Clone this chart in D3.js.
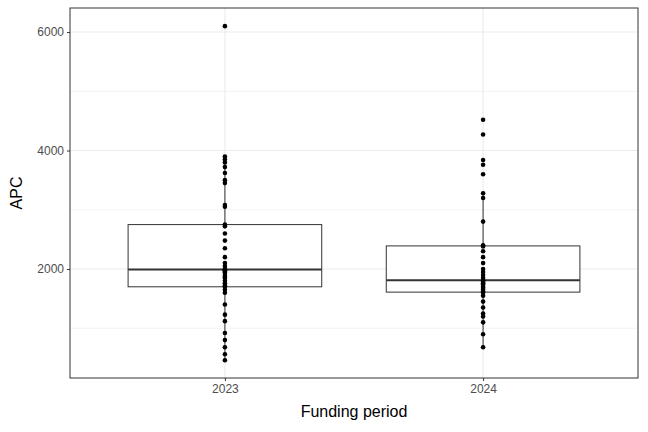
<!DOCTYPE html><html><head><script src="https://cdn.jsdelivr.net/npm/d3@7"></script>
<style>body{margin:0;background:#fff}</style></head><body><svg id="c" width="648" height="432"></svg><script>
const categories=["2023","2024"];
const apc2023=[6100,3900,3850,3800,3720,3620,3500,3450,3080,3050,2750,2720,2600,2480,2350,2200,2100,2050,2000,1990,1990,1980,1960,1940,1900,1870,1850,1800,1760,1720,1700,1650,1600,1400,1230,1120,920,800,680,560,460];
const apc2024=[4520,4270,3840,3760,3600,3280,3200,2800,2400,2380,2300,2200,2100,2000,1950,1900,1850,1810,1800,1780,1760,1740,1700,1680,1650,1620,1600,1550,1450,1350,1250,1200,1100,900,680];
const yTicks=[2000,4000,6000];
const yMinor=[1000,3000,5000];
const data=[apc2023,apc2024];
const svg=d3.select("#c"),L=70,R=638,T=8,B=378;
const band=(R-L)/2.2;
const x=d3.scalePoint().domain(categories).range([L+0.6*band,R-0.6*band]);
const y=d3.scaleLinear().domain([0,6525]).range([387.5,387.5-6525/16.88]);
const g=svg.append("g");
yMinor.forEach(v=>g.append("line").attr("x1",L).attr("x2",R).attr("y1",y(v)).attr("y2",y(v)).attr("stroke","#ebebeb").attr("stroke-width",0.6));
yTicks.forEach(v=>g.append("line").attr("x1",L).attr("x2",R).attr("y1",y(v)).attr("y2",y(v)).attr("stroke","#ebebeb").attr("stroke-width",1.1));
categories.forEach(c=>{const cx=x(c);g.append("line").attr("x1",cx).attr("x2",cx).attr("y1",T).attr("y2",B).attr("stroke","#ebebeb").attr("stroke-width",1.1);});
const bw=band*0.75;
data.forEach((d,i)=>{const s=d.slice().sort(d3.ascending);const q1=d3.quantile(s,.25),q2=d3.quantile(s,.5),q3=d3.quantile(s,.75),iqr=q3-q1;
const lo=s.find(v=>v>=q1-1.5*iqr),hi=s.filter(v=>v<=q3+1.5*iqr).pop();const cx=x(categories[i]);
g.append("line").attr("x1",cx).attr("x2",cx).attr("y1",y(hi)).attr("y2",y(q3)).attr("stroke","#333");
g.append("line").attr("x1",cx).attr("x2",cx).attr("y1",y(q1)).attr("y2",y(lo)).attr("stroke","#333");
g.append("rect").attr("x",cx-bw/2).attr("width",bw).attr("y",y(q3)).attr("height",y(q1)-y(q3)).attr("fill","#fff").attr("stroke","#333").attr("stroke-width",1);
g.append("line").attr("x1",cx-bw/2).attr("x2",cx+bw/2).attr("y1",y(q2)).attr("y2",y(q2)).attr("stroke","#333").attr("stroke-width",2);
d.forEach(v=>g.append("circle").attr("cx",cx).attr("cy",y(v)).attr("r",2.3).attr("fill","#000"));});
svg.append("rect").attr("x",L).attr("y",T).attr("width",R-L).attr("height",B-T).attr("fill","none").attr("stroke","#333").attr("stroke-width",1);
const ya=svg.append("g").attr("transform",`translate(${L},0)`).call(d3.axisLeft(y).tickValues(yTicks).tickSize(3).tickFormat(d3.format("d")));
const xa=svg.append("g").attr("transform",`translate(0,${B})`).call(d3.axisBottom(x).tickSize(3));
[ya,xa].forEach(a=>{a.select(".domain").remove();a.selectAll("line").attr("stroke","#333");a.selectAll("text").attr("fill","#4d4d4d").style("font-family","Liberation Sans, Arial").style("font-size","12px");});
svg.append("text").attr("x",(L+R)/2).attr("y",417).attr("text-anchor","middle").style("font-family","Liberation Sans, Arial").style("font-size","16px").text("Funding period");
svg.append("text").attr("transform",`translate(22,${(T+B)/2}) rotate(-90)`).attr("text-anchor","middle").style("font-family","Liberation Sans, Arial").style("font-size","16px").text("APC");
</script></body></html>
